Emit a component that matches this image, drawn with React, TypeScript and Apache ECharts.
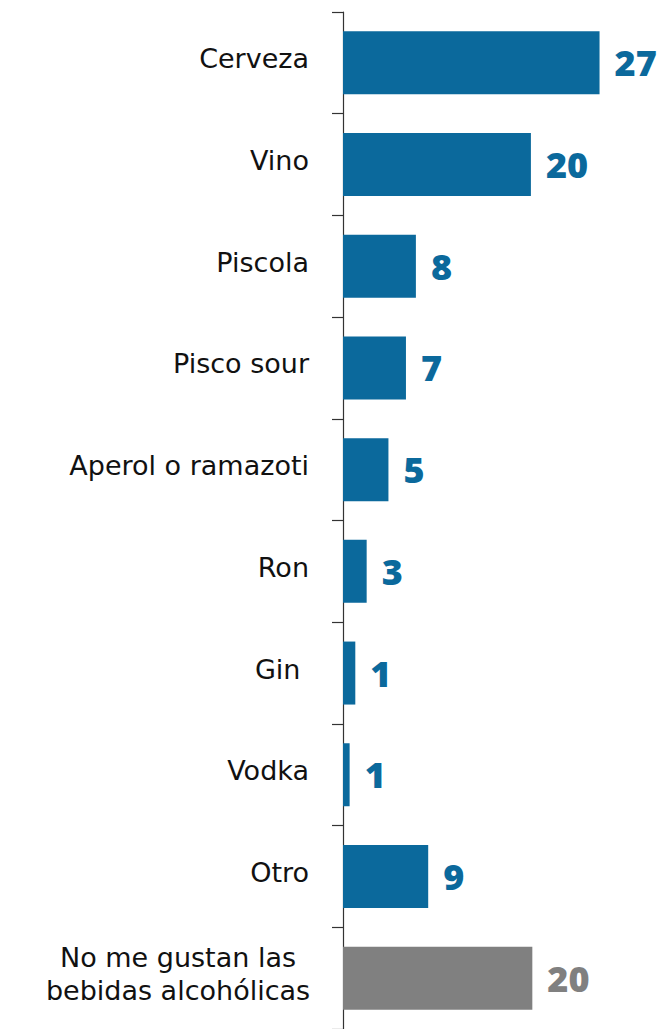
import React, { useEffect, useRef } from "react";
import * as echarts from "echarts";

const categories = [
  "Cerveza",
  "Vino",
  "Piscola",
  "Pisco sour",
  "Aperol o ramazoti",
  "Ron",
  "Gin ",
  "Vodka",
  "Otro",
  "No me gustan las bebidas alcohólicas",
];
const values = [27.1, 19.85, 7.7, 6.65, 4.8, 2.5, 1.3, 0.7, 9.0, 20.0];
const BLUE = "#0b699c";
const GRAY = "#808080";
const grayIndex = 9;
const LABEL_FONT = "DejaVu Sans";

export default function App() {
  const ref = useRef<HTMLDivElement>(null);
  useEffect(() => {
    const chart = echarts.init(ref.current!, null, { renderer: "svg" });
    chart.setOption({
      animation: false,
      grid: { left: 343, top: 12, width: 284, height: 1020 },
      xAxis: {
        type: "value",
        min: 0,
        max: 30,
        show: false,
      },
      yAxis: {
        type: "category",
        inverse: true,
        data: categories,
        axisLine: { show: true, lineStyle: { color: "#333", width: 1.2 } },
        axisTick: { show: true, length: 11, lineStyle: { color: "#333", width: 1.2 } },
        axisLabel: {
          margin: 34,
          color: "#111",
          fontFamily: LABEL_FONT,
          fontSize: 27,
          padding: [0, 0, 8, 0],
          formatter: (v: string) => {
            if (v.startsWith("No me gustan")) {
              return "{c|No me gustan las}\n{c|bebidas alcohólicas}";
            }
            return v;
          },
          rich: {
            c: {
              width: 262,
              align: "center",
              fontFamily: LABEL_FONT,
              fontSize: 27,
              color: "#111",
              lineHeight: 33,
            },
          },
        },
      },
      series: [
        {
          type: "bar",
          barWidth: 63,
          data: values.map((v, i) => ({
            value: v,
            itemStyle: { color: i === grayIndex ? GRAY : BLUE },
            label: { color: i === grayIndex ? GRAY : BLUE },
          })),
          label: {
            show: true,
            position: "right",
            distance: 15,
            fontFamily: "Open Sans",
            fontWeight: 800,
            fontSize: 36,
            formatter: (p: any) => String(Math.round(p.value)),
          },
        },
      ],
    });
    return () => chart.dispose();
  }, []);
  return (
    <div
      ref={ref}
      style={{ position: "absolute", left: 0, top: 0, width: 661, height: 1029 }}
    />
  );
}
